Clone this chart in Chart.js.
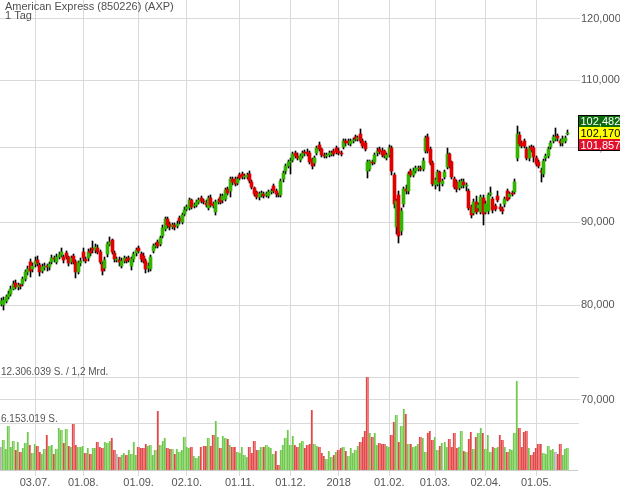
<!DOCTYPE html>
<html><head><meta charset="utf-8">
<script src="https://cdn.jsdelivr.net/npm/chart.js@4.4.0/dist/chart.umd.min.js"></script>
<style>html,body{margin:0;padding:0;background:#fff;overflow:hidden}#wrap{width:620px;height:496px;position:relative}</style>
</head><body><div id="wrap"><canvas id="c" width="620" height="496"></canvas></div>
<script>
const titleText = 'American Express (850226) (AXP)';
const periodText = '1 Tag';
const tickIndex = [14, 34, 57, 77, 99, 120, 140, 161, 180, 201, 222];
const tickLabels = ['03.07.', '01.08.', '01.09.', '02.10.', '01.11.', '01.12.', '2018', '01.02.', '01.03.', '02.04.', '01.05.'];
const priceTicks = [70, 80, 90, 100, 110, 120];
const volTickValues = [6.153019, 12.306039];
const volTickLabels = ['6.153.019 S.', '12.306.039 S. / 1,2 Mrd.'];

const opens = [
80.1,80.0,80.5,80.9,81.3,81.9,82.6,82.1,82.3,82.4,
83.0,83.8,85.0,84.2,84.8,85.3,84.7,84.0,84.4,84.5,
84.4,85.0,85.5,85.1,85.7,85.9,85.6,86.1,85.6,85.1,
85.8,85.1,83.9,84.9,86.3,85.4,85.5,86.4,86.8,86.5,
86.8,86.3,84.8,84.3,86.0,87.2,87.7,86.2,85.3,85.3,
84.6,85.2,85.4,85.5,84.6,85.4,86.1,86.7,86.0,85.8,
85.2,84.3,84.2,86.4,87.0,87.5,87.3,88.2,89.1,90.4,
89.7,89.4,89.6,89.5,90.5,90.0,91.1,91.7,91.8,92.8,
92.1,92.2,92.6,93.1,92.7,92.5,91.8,93.1,92.3,91.3,
92.6,93.3,92.8,93.0,94.3,94.0,95.6,95.7,95.1,96.2,
96.3,96.0,96.0,96.4,95.3,94.4,93.9,93.2,93.6,93.6,
93.5,93.4,93.9,94.7,94.1,93.6,93.5,95.6,96.7,97.4,
98.0,98.3,99.3,98.9,98.3,98.8,99.4,99.4,99.3,98.4,
97.8,99.3,100.4,99.8,99.0,98.85,99.0,99.1,99.5,99.9,
99.6,99.2,100.1,101.0,101.0,100.5,101.0,101.5,101.2,102.0,
100.9,100.6,96.8,97.0,98.0,98.0,99.2,99.8,99.6,99.5,
98.6,99.0,100.0,96.2,89.4,93.5,88.9,92.3,94.3,94.0,
96.7,96.2,96.8,97.0,97.2,97.0,99.5,101.5,99.8,97.9,
94.8,95.0,96.6,95.0,95.9,97.3,99.1,98.0,95.7,95.2,
94.5,94.7,95.3,94.7,94.0,91.9,91.2,92.6,91.8,91.3,
93.1,91.3,91.4,93.7,93.0,92.1,93.4,92.0,91.7,92.3,
94.0,93.3,93.8,93.9,98.5,101.8,100.6,100.9,99.8,98.5,
100.1,100.0,98.6,98.0,96.8,96.3,98.5,98.9,100.1,100.9,
101.3,101.7,100.9,100.6,100.9,101.9];
const closes = [
80.5,80.6,80.9,81.3,81.9,82.4,82.1,82.3,82.2,83.0,
83.8,84.2,84.0,84.6,85.2,84.9,83.8,84.5,84.6,84.4,
84.8,85.5,85.4,85.7,85.9,86.3,85.3,85.7,84.9,85.5,
85.1,83.8,84.9,85.2,85.5,85.2,86.3,86.1,86.5,86.9,
86.3,85.1,84.0,85.3,87.2,87.5,86.3,85.4,85.4,85.0,
85.2,85.5,85.2,85.3,85.4,86.0,86.5,86.4,85.4,85.2,
84.2,84.6,85.6,87.0,87.1,87.0,88.0,89.3,90.4,89.6,
89.4,89.6,89.4,89.8,90.1,90.9,91.6,91.9,92.8,92.0,
92.2,92.6,92.8,92.7,92.6,92.2,93.1,92.2,92.1,92.6,
92.7,92.6,93.4,94.2,93.8,95.6,95.2,95.0,95.7,95.8,
96.0,96.1,96.2,95.4,94.6,93.7,93.3,93.6,93.7,93.4,
93.6,93.9,94.0,94.1,93.6,93.5,95.4,96.5,97.4,98.0,
98.2,99.1,98.9,98.6,98.8,99.3,99.2,99.1,98.0,97.4,
98.6,99.9,99.8,99.0,98.8,98.95,99.2,99.3,99.1,99.4,
99.3,99.1,100.9,100.6,100.7,101.0,101.1,101.2,101.4,100.9,
100.3,99.8,98.0,98.1,97.9,99.0,99.6,99.4,99.0,98.8,
99.0,100.0,96.7,92.3,92.7,88.3,91.4,94.3,94.0,96.3,
96.2,96.8,97.1,97.2,97.0,98.2,101.4,99.6,97.9,95.0,
95.5,96.6,95.3,95.4,96.6,99.1,97.4,95.9,94.6,94.3,
95.2,95.4,94.8,94.9,91.8,90.9,92.6,91.3,92.2,93.2,
91.0,92.4,93.5,93.8,91.6,91.7,92.9,91.7,91.4,93.0,
92.9,93.6,93.7,95.3,101.9,100.5,100.3,100.2,98.6,100.0,
99.7,98.7,97.7,97.5,96.6,98.1,98.8,99.8,100.7,101.5,
101.5,101.4,100.7,101.3,101.4,102.17];
const highs = [
80.8,80.9,81.2,81.6,82.2,82.8,82.9,82.6,82.5,83.3,
84.1,84.6,85.4,84.9,85.6,85.8,84.9,84.8,84.9,84.8,
85.1,85.9,85.8,86.0,86.3,86.8,85.9,86.4,85.8,85.8,
86.0,85.3,85.2,85.5,86.7,85.7,86.6,86.8,87.6,87.2,
87.1,86.5,85.0,85.6,87.5,88.1,87.9,86.4,85.7,85.6,
85.5,85.8,85.7,85.8,85.6,86.3,86.8,87.0,86.3,86.1,
85.4,84.9,85.9,87.3,87.4,87.8,88.3,89.6,90.7,90.6,
90.0,89.9,89.9,90.1,90.8,91.2,91.9,92.2,93.1,93.0,
92.5,92.9,93.1,93.4,93.0,92.8,93.4,93.5,92.6,92.9,
93.0,93.6,93.7,94.5,94.6,95.9,95.9,96.0,96.0,96.5,
96.6,96.4,96.5,96.7,95.5,94.6,94.1,93.9,94.0,93.9,
93.9,94.2,94.3,95.0,94.3,93.8,95.6,96.8,97.7,98.3,
98.5,99.4,99.6,99.2,99.1,99.6,99.7,99.8,99.5,98.6,
98.9,100.2,100.8,100.0,99.3,99.2,99.5,99.6,99.8,100.2,
99.9,99.5,101.2,101.3,101.3,101.3,101.4,101.8,101.7,102.7,
101.2,100.9,98.3,98.3,98.3,99.3,99.9,100.1,99.9,99.7,
99.3,100.4,100.3,96.5,93.0,94.0,91.8,94.6,94.8,96.6,
97.0,97.1,97.4,97.5,97.5,98.5,101.7,101.9,100.1,98.1,
95.8,96.9,96.8,95.7,96.9,99.9,99.3,98.2,96.0,95.5,
95.5,95.7,95.6,95.1,94.3,92.2,93.0,93.4,92.5,93.5,
93.5,92.7,93.8,94.6,93.3,92.4,94.0,92.3,92.0,93.3,
94.3,93.9,94.1,95.6,103.1,102.2,100.9,101.2,100.1,100.3,
100.4,100.3,98.9,98.3,97.1,98.4,99.1,100.1,101.0,101.8,
102.9,102.0,101.3,101.6,101.7,102.482];
const lows = [
79.9,79.5,80.3,80.7,81.1,81.7,81.9,81.8,81.9,82.2,
82.8,83.5,83.3,83.9,84.5,84.6,83.4,83.7,84.1,84.0,
84.1,84.8,85.0,84.8,85.4,85.6,84.9,85.4,84.6,84.8,
84.8,83.1,83.6,84.6,85.2,84.9,85.2,85.8,86.2,86.2,
86.0,84.8,83.5,84.0,85.7,87.0,86.0,85.1,85.0,84.6,
84.3,84.9,84.9,85.0,84.1,85.1,85.8,86.1,85.1,84.9,
83.7,83.9,84.0,86.1,86.7,86.8,87.0,88.0,88.9,89.2,
89.0,89.1,89.0,89.2,89.7,89.7,90.8,91.4,91.5,91.7,
91.8,91.9,92.3,92.5,92.3,91.9,91.5,91.9,91.8,90.9,
92.3,92.4,92.5,92.7,93.5,93.3,94.9,94.7,94.8,95.5,
95.7,95.7,95.7,95.1,94.3,93.4,93.0,92.9,93.3,93.1,
93.2,93.1,93.6,93.8,93.3,93.2,93.3,95.3,96.4,97.1,
96.3,98.0,98.6,98.3,98.0,98.5,98.9,98.9,97.7,97.0,
97.5,99.0,99.5,98.7,98.5,98.6,98.7,98.8,98.8,99.1,
99.0,98.8,99.8,100.3,100.4,100.2,100.7,100.9,100.9,100.6,
100.0,99.5,95.8,96.7,97.6,97.7,98.9,99.1,98.7,98.5,
98.3,98.7,96.2,91.8,88.5,87.4,88.4,91.9,93.6,93.7,
95.9,95.9,96.5,96.7,96.7,96.7,99.2,99.3,97.6,94.7,
94.3,94.7,94.0,94.7,95.6,97.0,97.1,95.6,94.3,93.9,
94.2,94.4,94.5,94.0,91.5,90.5,90.9,91.0,91.4,91.0,
89.6,91.0,91.1,93.4,91.2,91.4,92.6,91.4,91.0,92.0,
92.7,93.0,93.4,93.6,98.2,100.2,100.0,99.9,98.3,98.2,
99.4,98.0,97.4,97.1,95.3,96.0,98.2,98.6,99.8,100.6,
101.0,101.0,100.2,100.3,100.6,101.857];
// volume in million shares
const volumeMio = [
3.09,3.97,2.73,5.87,3.00,3.88,2.65,3.75,2.43,2.96,
3.62,5.07,3.31,2.29,3.44,3.18,2.43,2.07,2.73,4.63,
3.18,3.31,2.07,2.78,5.51,5.29,3.53,5.38,3.18,3.09,
6.09,3.31,3.00,3.09,3.18,2.21,2.87,2.12,2.87,2.87,
3.75,3.00,2.87,3.66,3.53,3.88,4.19,2.65,2.07,1.76,
1.99,2.29,1.99,2.65,2.12,3.75,1.99,3.00,2.87,2.87,
3.44,3.18,3.31,1.99,2.65,7.85,3.31,3.88,4.19,2.87,
2.73,2.73,2.12,2.73,2.43,2.65,4.32,3.00,2.87,3.00,
1.85,1.54,1.85,3.00,3.18,3.18,4.19,3.18,4.63,6.48,
4.41,2.87,4.50,4.19,4.06,3.31,3.00,3.00,2.43,2.29,
3.00,1.99,1.76,3.00,2.21,3.88,2.65,2.65,3.00,3.00,
3.31,3.00,2.87,2.12,2.50,0.70,2.65,3.31,4.19,5.29,
3.31,4.50,3.31,3.00,3.53,3.84,2.87,3.31,3.44,7.94,
3.44,3.18,3.00,2.21,1.85,1.41,2.56,1.76,1.99,2.43,
2.65,2.87,3.00,2.56,1.85,2.87,2.21,2.65,3.18,3.75,
4.41,5.20,12.31,4.94,4.32,4.94,3.31,3.62,3.44,3.40,
3.18,3.00,4.63,6.39,7.28,3.75,5.82,8.03,7.41,3.40,
3.40,3.00,3.18,3.44,4.32,4.19,2.43,4.94,5.16,3.97,
4.32,2.65,3.18,3.53,3.75,3.00,4.06,3.00,4.85,2.87,
3.00,5.16,2.56,2.43,4.06,5.07,2.73,4.32,4.85,5.51,
4.94,2.73,4.63,2.43,3.00,2.87,3.09,4.63,3.97,3.00,
2.43,2.73,2.65,4.94,11.82,5.51,3.09,5.07,5.16,2.96,
1.99,2.43,2.87,3.44,3.44,2.29,2.12,3.18,2.65,2.73,
2.43,2.12,3.40,1.99,2.73,2.87];

const FONT = '"Liberation Sans", Arial, sans-serif';
const TXT = '#555555';
const GRID = '#d9d9d9';
const C_UP = '#33b400', C_DN = '#e00000';
const fmtPrice = v => Number(v).toFixed(3).replace('.', ',');

const idx = closes.map((_, i) => i);
const bodyData = idx.map(i => ({x: i, y: [opens[i], closes[i]]}));
const wickData = idx.map(i => ({x: i, y: [lows[i], highs[i]]}));
const volData = idx.map(i => ({x: i, y: volumeMio[i]}));
const bodyColors = idx.map(i => closes[i] >= opens[i] ? C_UP : C_DN);
const volDir = idx.map(i => i === 0 || closes[i] === closes[i - 1] ? 0 : (closes[i] > closes[i - 1] ? 1 : -1));
const volFill = volDir.map(d => d === 0 ? '#c9c9c9' : d > 0 ? '#9ddc80' : '#ef7d7d');
const volEdge = volDir.map(d => d === 0 ? '#a8a8a8' : d > 0 ? '#5cbf38' : '#d83030');

const PX_PER_DAY = 2.41, X_MIN = -0.523, PLOT_W = 577;

// snap the library-computed bar rectangles to whole pixels for crisp candles
const snap = {
  id: 'snap',
  afterDatasetsUpdate(chart) {
    chart.data.datasets.forEach((ds, di) => {
      const meta = chart.getDatasetMeta(di);
      meta.data.forEach(el => {
        if (ds.label === 'Volumen') {
          const l = Math.round(el.x - 1.2), r = Math.round(el.x + 1.2);
          el.x = (l + r) / 2; el.width = Math.max(1, r - l);
          el.y = Math.round(el.y); el.base = Math.round(el.base);
        } else {
          el.x = Math.floor(el.x) + 0.5;
          let y = Math.round(el.y), b = Math.round(el.base);
          if (Math.abs(b - y) < 1) b = y + 1;
          el.y = y; el.base = b;
        }
      });
    });
  }
};

const overlay = {
  id: 'overlay',
  beforeDatasetsDraw(chart) {
    const {ctx, chartArea} = chart;
    const yv = chart.scales.yv;
    ctx.save();
    ctx.strokeStyle = GRID; ctx.lineWidth = 1;
    volTickValues.forEach(v => {
      const y = Math.round(yv.getPixelForValue(v)) + 0.5;
      ctx.beginPath(); ctx.moveTo(chartArea.left, y); ctx.lineTo(chartArea.right + 2, y); ctx.stroke();
    });
    ctx.restore();
  },
  afterDraw(chart) {
    const {ctx} = chart;
    const yv = chart.scales.yv, yp = chart.scales.y;
    ctx.save();
    ctx.fillStyle = '#505050';
    ctx.font = '11px ' + FONT;
    ctx.textBaseline = 'alphabetic';
    ctx.textAlign = 'left';
    ctx.fillText(titleText, 5, 10);
    ctx.fillText(periodText, 5, 19);
    ctx.font = '10px ' + FONT;
    ctx.fillStyle = TXT;
    volTickValues.forEach((v, k) => {
      const y = yv.getPixelForValue(v);
      ctx.fillText(volTickLabels[k], 1, y - 1.5);
    });
    // last price boxes
    const n = closes.length - 1;
    const yc = Math.round(yp.getPixelForValue(closes[n]));
    const bx = 578, bw = 42, bh = 12;
    const boxes = [
      {v: highs[n], bg: '#0c6b0c', fg: '#ffffff', top: yc - 6 - bh},
      {v: closes[n], bg: '#ffff00', fg: '#000000', top: yc - 6},
      {v: lows[n], bg: '#e2102a', fg: '#ffffff', top: yc + 6}
    ];
    ctx.font = '11px ' + FONT;
    ctx.textBaseline = 'middle';
    boxes.forEach(b => {
      ctx.fillStyle = b.bg;
      ctx.fillRect(bx, b.top, bw, bh);
      ctx.fillStyle = b.fg;
      ctx.fillText(fmtPrice(b.v), bx + 2.5, b.top + bh / 2 + 0.5);
    });
    ctx.strokeStyle = '#000'; ctx.lineWidth = 1;
    ctx.strokeRect(bx + 0.5, yc - 6 - bh + 0.5, bw, bh * 3 - 1);
    ctx.restore();
  }
};

new Chart(document.getElementById('c'), {
  type: 'bar',
  data: {
    datasets: [
      {label: 'Volumen', data: volData, yAxisID: 'yv', backgroundColor: volFill, borderColor: volEdge,
       borderWidth: {left: 1, top: 0, right: 0, bottom: 0}, borderSkipped: false,
       barThickness: 2.4, grouped: false, order: 3},
      {label: 'Docht', data: wickData, yAxisID: 'y', backgroundColor: '#000000',
       barThickness: 1, grouped: false, order: 2},
      {label: 'Kerze', data: bodyData, yAxisID: 'y', backgroundColor: bodyColors,
       barThickness: 3, minBarLength: 1, grouped: false, order: 1}
    ]
  },
  options: {
    responsive: false,
    animation: false,
    devicePixelRatio: 1,
    layout: {padding: 0},
    plugins: {legend: {display: false}, tooltip: {enabled: false}, title: {display: false}},
    scales: {
      x: {
        type: 'linear', position: 'bottom', offset: false,
        min: X_MIN, max: X_MIN + PLOT_W / PX_PER_DAY,
        afterBuildTicks: s => { s.ticks = tickIndex.map(v => ({value: v})); },
        afterFit: s => { s.height = 26; s.paddingLeft = 0; s.paddingRight = 0; },
        ticks: {autoSkip: false, maxRotation: 0, color: TXT, padding: 0,
          font: {size: 11, family: FONT},
          callback: v => { const k = tickIndex.indexOf(v); return k >= 0 ? tickLabels[k] : ''; }},
        grid: {color: GRID, offset: false, drawTicks: true, tickLength: 6},
        border: {display: true, color: '#cccccc'}
      },
      y: {
        type: 'logarithmic', position: 'right',
        min: 63.35, max: 123.27,
        afterBuildTicks: s => { s.ticks = priceTicks.map(v => ({value: v})); },
        afterFit: s => { s.width = 43; s.paddingTop = 0; s.paddingBottom = 0; },
        ticks: {autoSkip: false, color: TXT, padding: 1, font: {size: 11, family: FONT},
          callback: v => fmtPrice(v)},
        grid: {color: GRID, drawTicks: true, tickLength: 3},
        border: {display: false}
      },
      yv: {
        type: 'linear', display: false, min: 0, max: 62.19
      }
    }
  },
  plugins: [snap, overlay]
});
</script>
</body></html>
